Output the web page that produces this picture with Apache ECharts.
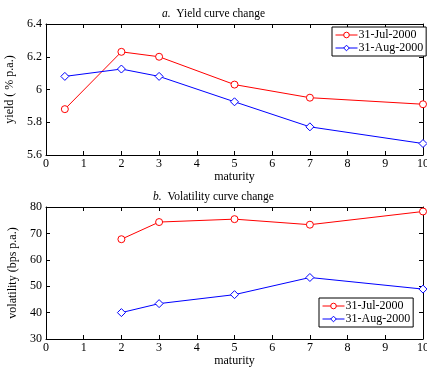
<!DOCTYPE html>
<html>
<head>
<meta charset="utf-8">
<script src="https://cdn.jsdelivr.net/npm/echarts@6/dist/echarts.min.js"></script>
<style>html,body{margin:0;padding:0;background:#fff}#chart{width:427px;height:367px}</style>
</head>
<body>
<div id="chart"></div>
<script>
const seriesNames = ['31-Jul-2000', '31-Aug-2000'];
const yieldMaturity = [0.5, 2, 3, 5, 7, 10];
const yieldJul = [5.88, 6.23, 6.2, 6.03, 5.95, 5.91];
const yieldAug = [6.08, 6.125, 6.08, 5.925, 5.772, 5.67];
const volMaturity = [2, 3, 5, 7, 10];
const volJul = [67.8, 74.3, 75.4, 73.3, 78.3];
const volAug = [40.0, 43.4, 46.8, 53.3, 48.9];

const font = 'Liberation Serif';
const txt = {fontFamily: font, fontSize: 12, color: '#000'};

function pairs(xs, ys) {
    return xs.map((x, i) => [x, ys[i]]);
}

function xAxes(gridIndex) {
    const base = {
        type: 'value', gridIndex, min: 0, max: 10, interval: 1,
        axisLine: {show: true, onZero: false, lineStyle: {color: '#000', width: 1}},
        axisTick: {show: true, inside: true, length: 4, lineStyle: {color: '#000'}},
        splitLine: {show: false},
    };
    return [
        Object.assign({}, base, {
            position: 'bottom',
            name: 'maturity', nameLocation: 'middle', nameGap: 15,
            nameTextStyle: txt,
            axisLabel: Object.assign({margin: 3}, txt),
        }),
        Object.assign({}, base, {position: 'top', axisLabel: {show: false}}),
    ];
}

function yAxes(gridIndex, min, max, interval, name, fmt) {
    const base = {
        type: 'value', gridIndex, min, max, interval,
        axisLine: {show: true, onZero: false, lineStyle: {color: '#000', width: 1}},
        axisTick: {show: true, inside: true, length: 4, lineStyle: {color: '#000'}},
        splitLine: {show: false},
    };
    return [
        Object.assign({}, base, {
            position: 'left',
            name, nameLocation: 'middle', nameGap: 27,
            nameTextStyle: txt,
            axisLabel: Object.assign({margin: 4, formatter: fmt}, txt),
        }),
        Object.assign({}, base, {position: 'right', axisLabel: {show: false}}),
    ];
}

function mkSeries(name, data, color, symbol, xi, yi) {
    return {
        name, type: 'line', data,
        xAxisIndex: xi, yAxisIndex: yi,
        symbol, symbolSize: symbol === 'circle' ? 7 : 8,
        showSymbol: true,
        color,
        lineStyle: {color, width: 1},
        itemStyle: {color: '#fff', borderColor: color, borderWidth: 1},
        animation: false,
    };
}

const legendBase = {
    orient: 'vertical',
    backgroundColor: '#fff',
    borderColor: '#000', borderWidth: 1, borderRadius: 0,
    padding: [2, 3, 2, 3],
    itemGap: 1, itemWidth: 22, itemHeight: 7,
    itemStyle: {borderWidth: 1},
    lineStyle: {width: 1},
    textStyle: Object.assign({}, txt, {padding: [0, 0, 0, -4]}),
    data: seriesNames,
};

const titleStyle = {
    fontFamily: font, fontSize: 11.5, fontWeight: 'normal', color: '#000',
    rich: {i: {fontFamily: font, fontSize: 11.5, fontStyle: 'italic'}},
};

const option = {
    backgroundColor: '#fff',
    animation: false,
    title: [
        {text: '{i|a.}  Yield curve change', left: 'center', top: 3, textStyle: titleStyle},
        {text: '{i|b.}  Volatility curve change', left: 'center', top: 186, textStyle: titleStyle},
    ],
    legend: [
        Object.assign({}, legendBase, {left: 332, top: 27}),
        Object.assign({}, legendBase, {left: 319, top: 298}),
    ],
    grid: [
        {left: 46, right: 4, top: 24, height: 131, outerBoundsMode: 'none', containLabel: false},
        {left: 46, right: 4, top: 207, height: 132, outerBoundsMode: 'none', containLabel: false},
    ],
    xAxis: [...xAxes(0), ...xAxes(1)],
    yAxis: [
        ...yAxes(0, 5.6, 6.4, 0.2, 'yield ( % p.a.)', v => (Math.round(v * 10) / 10).toString()),
        ...yAxes(1, 30, 80, 10, 'volatility (bps p.a.)', v => v.toString()),
    ],
    series: [
        mkSeries(seriesNames[0], pairs(yieldMaturity, yieldJul), '#ff0000', 'circle', 0, 0),
        mkSeries(seriesNames[1], pairs(yieldMaturity, yieldAug), '#0000ff', 'diamond', 0, 0),
        mkSeries(seriesNames[0], pairs(volMaturity, volJul), '#ff0000', 'circle', 2, 2),
        mkSeries(seriesNames[1], pairs(volMaturity, volAug), '#0000ff', 'diamond', 2, 2),
    ],
};

const chart = echarts.init(document.getElementById('chart'));
chart.setOption(option);
</script>
</body>
</html>
